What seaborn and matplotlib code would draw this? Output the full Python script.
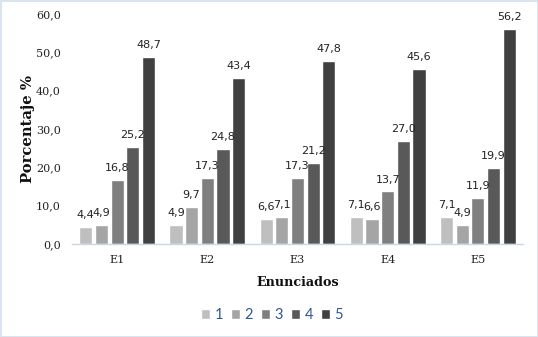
import matplotlib
matplotlib.use("Agg")
import matplotlib.pyplot as plt
import seaborn as sns
import pandas as pd

categories = ["E1", "E2", "E3", "E4", "E5"]
levels = ["1", "2", "3", "4", "5"]
values_1 = [4.4, 4.9, 6.6, 7.1, 7.1]
values_2 = [4.9, 9.7, 7.1, 6.6, 4.9]
values_3 = [16.8, 17.3, 17.3, 13.7, 11.9]
values_4 = [25.2, 24.8, 21.2, 27.0, 19.9]
values_5 = [48.7, 43.4, 47.8, 45.6, 56.2]
colors = ["#BFBFBF", "#A5A5A5", "#7F7F7F", "#595959", "#404040"]

series = [values_1, values_2, values_3, values_4, values_5]
rows = []
for lvl, vals in zip(levels, series):
    for cat, v in zip(categories, vals):
        rows.append({"Enunciado": cat, "Nivel": lvl, "Porcentaje": v})
df = pd.DataFrame(rows)

sns.set_style("white")
fig = plt.figure(figsize=(5.38, 3.37), dpi=100, facecolor="white",
                 edgecolor="#D9E4F1", linewidth=2)
ax = fig.add_axes([72 / 538, 93 / 337, 451 / 538, 230 / 337])

sns.barplot(data=df, x="Enunciado", y="Porcentaje", hue="Nivel",
            hue_order=levels, order=categories, palette=colors,
            width=0.87, gap=0.16, saturation=1, ax=ax, legend=True,
            errorbar=None)

for cont, vals in zip(ax.containers, series):
    ax.bar_label(cont, labels=[f"{v:.1f}".replace(".", ",") for v in vals],
                 padding=5, fontsize=8, family="DejaVu Sans", color="#222222")

ax.set_ylim(0, 60)
ax.set_yticks(range(0, 61, 10))
ax.set_yticklabels([f"{t:.1f}".replace(".", ",") for t in range(0, 61, 10)],
                   family="DejaVu Serif", fontsize=8, color="#222222")
ax.set_xticks(range(len(categories)))
ax.set_xticklabels(categories, family="DejaVu Serif", fontsize=8, color="#222222")
ax.tick_params(axis="y", length=0, pad=8)
ax.tick_params(axis="x", length=0, pad=8)
ax.set_xlim(-0.5, 4.5)

for s in ["top", "right", "left"]:
    ax.spines[s].set_visible(False)
ax.spines["bottom"].set_color("#C9D6E6")
ax.spines["bottom"].set_linewidth(1)

ax.set_xlabel("Enunciados", family="DejaVu Serif", fontweight="bold",
              fontsize=9.2, labelpad=8, color="#111111")
ax.set_ylabel("Porcentaje %", family="DejaVu Serif", fontweight="bold",
              fontsize=10.6, labelpad=1, color="#111111")

handles, labels = ax.get_legend_handles_labels()
ax.get_legend().remove()
fig.legend(handles, labels, loc="center", bbox_to_anchor=(272 / 538, 1 - 315 / 337),
           ncol=5, frameon=False, handlelength=0.62, handleheight=0.62,
           handletextpad=0.3, columnspacing=0.55,
           prop={"family": "Lato", "size": 10.5}, labelcolor="#2F5597")

fig.savefig("out.png", dpi=100, facecolor=fig.get_facecolor(),
            edgecolor=fig.get_edgecolor())
